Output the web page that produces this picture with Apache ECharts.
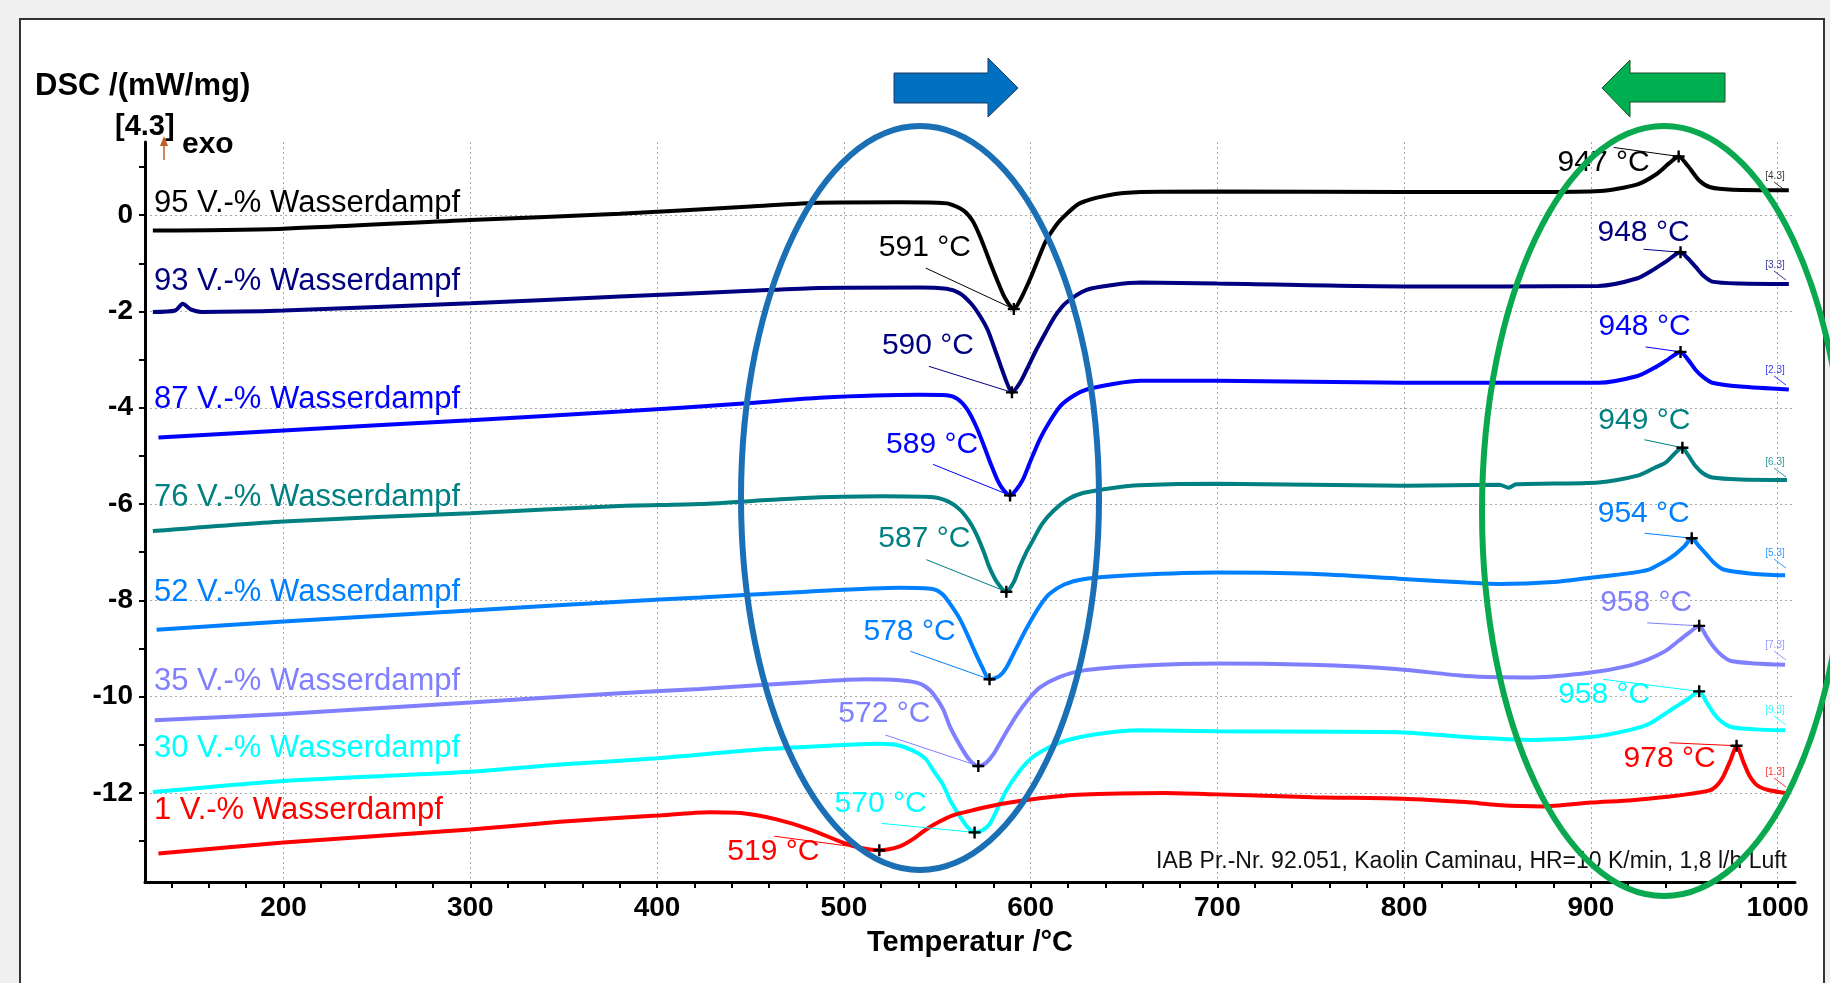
<!DOCTYPE html>
<html>
<head>
<meta charset="utf-8">
<script src="https://cdn.jsdelivr.net/npm/echarts@6/dist/echarts.min.js"></script>
<style>
  html, body { margin: 0; padding: 0; background: #f0f0f0; }
  #box { width: 1830px; height: 983px; }
</style>
</head>
<body>
<div id="box"></div>
<script>
// curve names (Wasserdampf-Gehalt)
var seriesNames = [
  "95 V.-% Wasserdampf",
  "93 V.-% Wasserdampf",
  "87 V.-% Wasserdampf",
  "76 V.-% Wasserdampf",
  "52 V.-% Wasserdampf",
  "35 V.-% Wasserdampf",
  "30 V.-% Wasserdampf",
  "1 V.-% Wasserdampf",
];
var curveTags = ["[4.3]", "[3.3]", "[2.3]", "[6.3]", "[5.3]", "[7.3]", "[9.3]", "[1.3]"];

// [Temperatur °C, DSC mW/mg]
var s95 = [
  [130, -0.32], [200, -0.28], [300, -0.1], [380, 0.03], [450, 0.18], [487, 0.26], [530, 0.27],
  [550, 0.26], [556, 0.24], [564, 0.1], [569, -0.12], [573, -0.45], [578, -0.95], [582, -1.34],
  [586, -1.7], [591, -1.95], [595, -1.72], [600, -1.3], [604, -0.92], [608, -0.55], [612, -0.3],
  [616, -0.1], [626, 0.24], [641, 0.41], [659, 0.48], [700, 0.49], [800, 0.48], [870, 0.48],
  [905, 0.5], [925, 0.64], [935, 0.85], [942, 1.08], [947, 1.22], [952, 1.02], [958, 0.72],
  [964, 0.58], [976, 0.53], [1006, 0.52],
];
var s93 = [
  [130, -2.01], [142, -1.98], [146, -1.84], [150, -1.95], [156, -2.01], [200, -1.98], [300, -1.83],
  [380, -1.69], [450, -1.57], [487, -1.51], [540, -1.5], [555, -1.53], [562, -1.62], [568, -1.83],
  [573, -2.1], [577, -2.38], [581, -2.8], [584, -3.13], [587, -3.45], [590, -3.68], [594, -3.5],
  [598, -3.2], [603, -2.8], [608, -2.44], [613, -2.1], [619, -1.82], [630, -1.55], [644, -1.45],
  [659, -1.4], [700, -1.42], [800, -1.48], [904, -1.47], [925, -1.31], [934, -1.12], [940, -0.97],
  [948, -0.77], [952, -0.9], [956, -1.07], [960, -1.25], [965, -1.38], [980, -1.42], [1006, -1.43],
];
var s87 = [
  [133, -4.62], [200, -4.47], [300, -4.26], [380, -4.08], [450, -3.9], [487, -3.79], [540, -3.73],
  [555, -3.74], [561, -3.82], [566, -4.03], [571, -4.4], [575, -4.79], [579, -5.2], [582, -5.48],
  [585, -5.68], [589, -5.82], [592, -5.72], [596, -5.48], [600, -5.1], [605, -4.65], [610, -4.3],
  [616, -3.96], [623, -3.75], [630, -3.62], [645, -3.5], [659, -3.44], [700, -3.44], [800, -3.48],
  [904, -3.48], [925, -3.34], [934, -3.17], [940, -3.03], [948, -2.84], [952, -3.0], [956, -3.21],
  [960, -3.36], [965, -3.48], [980, -3.56], [1006, -3.62],
];
var s76 = [
  [130, -6.56], [200, -6.36], [300, -6.19], [380, -6.04], [423, -6.0], [476, -5.88], [520, -5.84],
  [548, -5.86], [556, -5.95], [562, -6.11], [567, -6.35], [571, -6.63], [575, -7.0], [578, -7.32],
  [582, -7.62], [587, -7.82], [591, -7.62], [594, -7.32], [598, -6.98], [601, -6.77], [606, -6.42],
  [612, -6.15], [620, -5.9], [628, -5.77], [645, -5.66], [658, -5.61], [700, -5.58], [800, -5.62],
  [851, -5.6], [856, -5.66], [860, -5.59], [904, -5.55], [925, -5.41], [934, -5.25], [940, -5.14],
  [949, -4.83], [952, -4.98], [956, -5.21], [960, -5.36], [965, -5.45], [980, -5.49], [1005, -5.5],
];
var s52 = [
  [132, -8.61], [200, -8.44], [300, -8.21], [380, -8.03], [423, -7.94], [480, -7.82], [530, -7.74],
  [548, -7.77], [553, -7.88], [557, -8.08], [562, -8.38], [566, -8.7], [570, -9.05], [574, -9.38],
  [578, -9.64], [583, -9.58], [587, -9.4], [592, -9.02], [598, -8.57], [604, -8.17], [610, -7.87],
  [618, -7.67], [628, -7.56], [658, -7.47], [700, -7.42], [750, -7.45], [797, -7.55], [833, -7.63],
  [851, -7.66], [880, -7.62], [900, -7.53], [920, -7.44], [931, -7.36], [940, -7.18], [945, -7.05],
  [950, -6.88], [954, -6.71], [958, -6.88], [962, -7.05], [966, -7.22], [971, -7.36], [985, -7.44],
  [1004, -7.48],
];
var s35 = [
  [131, -10.49], [200, -10.36], [300, -10.12], [380, -9.93], [423, -9.84], [480, -9.7], [512, -9.64],
  [530, -9.66], [539, -9.71], [544, -9.8], [548, -9.95], [553, -10.25], [557, -10.64], [562, -11.0],
  [567, -11.3], [572, -11.44], [576, -11.38], [580, -11.2], [586, -10.8], [593, -10.36], [599, -10.05],
  [605, -9.81], [615, -9.6], [628, -9.46], [658, -9.36], [700, -9.31], [750, -9.34], [797, -9.43],
  [833, -9.57], [869, -9.6], [900, -9.5], [920, -9.36], [931, -9.22], [940, -9.05], [947, -8.84],
  [953, -8.66], [958, -8.53], [962, -8.76], [966, -8.98], [970, -9.14], [975, -9.26], [988, -9.31],
  [1004, -9.34],
];
var s30 = [
  [130, -11.98], [200, -11.75], [300, -11.56], [348, -11.41], [400, -11.28], [455, -11.1], [503, -11.0],
  [519, -10.98], [530, -11.02], [539, -11.16], [544, -11.3], [548, -11.54], [553, -11.82], [557, -12.16],
  [562, -12.48], [566, -12.7], [570, -12.82], [574, -12.78], [578, -12.65], [582, -12.35], [587, -11.95],
  [594, -11.55], [601, -11.26], [610, -11.05], [619, -10.91], [635, -10.78], [658, -10.7], [700, -10.72],
  [797, -10.74], [833, -10.84], [869, -10.9], [900, -10.84], [920, -10.7], [931, -10.57], [945, -10.22],
  [952, -10.05], [958, -9.89], [962, -10.12], [966, -10.36], [970, -10.52], [975, -10.63], [988, -10.68],
  [1004, -10.7],
];
var s1 = [
  [133, -13.26], [200, -13.03], [300, -12.76], [348, -12.6], [400, -12.47], [428, -12.4], [446, -12.42],
  [464, -12.55], [482, -12.76], [500, -13.04], [510, -13.15], [519, -13.19], [530, -13.11], [537, -12.96],
  [544, -12.76], [551, -12.6], [558, -12.47], [570, -12.35], [584, -12.23], [601, -12.13], [625, -12.04],
  [672, -12.0], [700, -12.03], [751, -12.09], [799, -12.12], [833, -12.19], [850, -12.25], [874, -12.28],
  [900, -12.2], [922, -12.15], [941, -12.08], [953, -12.02], [964, -11.94], [968, -11.82], [971, -11.65],
  [975, -11.3], [978, -11.02], [982, -11.39], [985, -11.65], [989, -11.84], [995, -11.94], [1004, -12.0],
];

// marked temperatures (endo minimum, exo maximum)
var dipTemps = [591, 590, 589, 587, 578, 572, 570, 519];
var peakTemps = [947, 948, 948, 949, 954, 958, 958, 978];

// axis ticks and labels
var xLabels = [200, 300, 400, 500, 600, 700, 800, 900, 1000];
var xTicks = [140, 160, 180, 200, 220, 240, 260, 280, 300, 320, 340, 360, 380, 400, 420, 440, 460, 480,
  500, 520, 540, 560, 580, 600, 620, 640, 660, 680, 700, 720, 740, 760, 780, 800, 820, 840, 860, 880,
  900, 920, 940, 960, 980, 1000];
var yLabels = [0, -2, -4, -6, -8, -10, -12];
var yTicks = [1, 0, -1, -2, -3, -4, -5, -6, -7, -8, -9, -10, -11, -12, -13];

// ---- styles / layout ----
var curves = [s95, s93, s87, s76, s52, s35, s30, s1];
var colors = ["#000000", "#000080", "#0000ff", "#008080", "#0080ff", "#8080ff", "#00ffff", "#ff0000"];
var font = "Liberation Sans, Arial, sans-serif";
var leftLabelY = [203, 281, 399, 497, 592, 681, 748, 810];
var tagY = [176, 265, 370, 462, 553, 645, 710, 772];
// label centre offset and leader start offset, pixels from the marked point
var dipOff = [
  [[-89, -61], [-88, -41]], [[-84, -47], [-83, -26]], [[-78, -51], [-77, -31]], [[-82, -53], [-80, -32]],
  [[-80, -48], [-79, -28]], [[-94, -52], [-93, -31]], [[-94, -29], [-93, -9]], [[-106, 2], [-105, -14]],
];
var peakOff = [
  [[-75, 6], [-65, -9]], [[-37, -20], [-37, -3]], [[-36, -25], [-35, -5]], [[-38, -27], [-38, -8]],
  [[-48, -25], [-47, -5]], [[-53, -23], [-52, -3]], [[-95, 3], [-96, -12]], [[-67, 13], [-67, -3]],
];
var xMin = 125.8, xMax = 1009.3, yMin = -13.85, yMax = 1.52;

var chart = echarts.init(document.getElementById("box"));

function valueAt(data, t) {
  for (var i = 0; i < data.length; i++) {
    if (data[i][0] === t) return data[i][1];
  }
  return null;
}

function makeSeries(i) {
  var dip = [dipTemps[i], valueAt(curves[i], dipTemps[i])];
  var peak = [peakTemps[i], valueAt(curves[i], peakTemps[i])];
  var lbl = { show: true, position: "inside", fontSize: 30, fontFamily: font, color: colors[i] };
  return {
    type: "line",
    name: seriesNames[i],
    data: curves[i],
    showSymbol: false,
    symbol: "none",
    smooth: 0.25,
    lineStyle: { color: colors[i], width: 4 },
    itemStyle: { color: colors[i] },
    z: 3,
    markPoint: {
      symbol: "path://M4,0H6V4H10V6H6V10H4V6H0V4H4Z",
      symbolSize: 12,
      itemStyle: { color: "#000" },
      data: [
        { coord: dip, label: Object.assign({}, lbl, { formatter: dipTemps[i] + " °C", offset: dipOff[i][0] }) },
        { coord: peak, label: Object.assign({}, lbl, { formatter: peakTemps[i] + " °C", offset: peakOff[i][0] }) },
      ],
    },
  };
}

var series = [];
for (var i = 0; i < curves.length; i++) series.push(makeSeries(i));

var gridLine = { show: true, lineStyle: { color: "#a8a8a8", width: 1, type: [2, 3] } };
var plainNum = function (v) { return String(v); };

chart.setOption({
  backgroundColor: "#f0f0f0",
  animation: false,
  grid: { left: 145, top: 142, right: 35, bottom: 101 },
  xAxis: [
    {
      type: "value", min: xMin, max: xMax, position: "bottom",
      name: "Temperatur /°C", nameLocation: "middle", nameGap: 46,
      nameTextStyle: { fontSize: 29, fontWeight: "bold", color: "#000", fontFamily: font },
      axisLine: { show: true, onZero: false, lineStyle: { color: "#000", width: 3 } },
      axisTick: { show: true, length: 6, lineStyle: { color: "#000", width: 2 }, customValues: xTicks },
      axisLabel: { customValues: xLabels, formatter: plainNum, fontSize: 28, fontWeight: "bold",
        color: "#000", fontFamily: font, margin: 12 },
      splitLine: { show: false },
    },
    {
      type: "value", min: xMin, max: xMax, position: "top",
      axisLine: { show: false, onZero: false }, axisLabel: { show: false },
      axisTick: { show: false, customValues: xLabels },
      splitLine: gridLine,
    },
  ],
  yAxis: [
    {
      type: "value", min: yMin, max: yMax, position: "left",
      axisLine: { show: true, onZero: false, lineStyle: { color: "#000", width: 3 } },
      axisTick: { show: true, length: 6, lineStyle: { color: "#000", width: 2 }, customValues: yTicks },
      axisLabel: { customValues: yLabels, formatter: plainNum, fontSize: 28, fontWeight: "bold",
        color: "#000", fontFamily: font, margin: 12 },
      splitLine: { show: false },
    },
    {
      type: "value", min: yMin, max: yMax, position: "right",
      axisLine: { show: false, onZero: false }, axisLabel: { show: false },
      axisTick: { show: false, customValues: yLabels },
      splitLine: gridLine,
    },
  ],
  series: series,
});

// static drawing + leader lines (need pixel positions of the marks)
var g = [];
g.push({ type: "rect", z: -1, shape: { x: 20, y: 19, width: 1804, height: 990 },
  style: { fill: "#fff", stroke: "#333", lineWidth: 2 } });
g.push({ type: "text", x: 35, y: 86, z: 5,
  style: { text: "DSC /(mW/mg)", font: "bold 31px " + font, fill: "#000", verticalAlign: "middle" } });
g.push({ type: "text", x: 115, y: 127, z: 5,
  style: { text: "[4.3]", font: "bold 29px " + font, fill: "#000", verticalAlign: "middle" } });
g.push({ type: "line", z: 5, shape: { x1: 164, y1: 160, x2: 164, y2: 140 }, style: { stroke: "#c0602a", lineWidth: 1.5 } });
g.push({ type: "polygon", z: 5, shape: { points: [[160, 146], [164, 136], [168, 146]] }, style: { fill: "#c0602a" } });
g.push({ type: "text", x: 182, y: 145, z: 5,
  style: { text: "exo", font: "bold 30px " + font, fill: "#000", verticalAlign: "middle" } });
g.push({ type: "text", x: 1787, y: 862, z: 5,
  style: { text: "IAB Pr.-Nr. 92.051, Kaolin Caminau, HR=10 K/min, 1,8 l/h Luft", font: "23px " + font,
    fill: "#111", align: "right", verticalAlign: "middle" } });

for (var k = 0; k < curves.length; k++) {
  g.push({ type: "text", x: 154, y: leftLabelY[k], z: 5,
    style: { text: seriesNames[k], font: "31px " + font, fill: colors[k], verticalAlign: "middle" } });
  g.push({ type: "text", x: 1775, y: tagY[k], z: 5,
    style: { text: curveTags[k], font: "10px " + font, fill: colors[k], align: "center", verticalAlign: "middle", opacity: 0.8 } });
  g.push({ type: "line", z: 5, shape: { x1: 1774, y1: tagY[k] + 6, x2: 1786, y2: tagY[k] + 15 },
    style: { stroke: colors[k], lineWidth: 1, opacity: 0.8 } });

  var marks = [[dipTemps[k], dipOff[k][1]], [peakTemps[k], peakOff[k][1]]];
  for (var m = 0; m < marks.length; m++) {
    var p = chart.convertToPixel({ xAxisIndex: 0, yAxisIndex: 0 }, [marks[m][0], valueAt(curves[k], marks[m][0])]);
    g.push({ type: "line", z: 4,
      shape: { x1: p[0] + marks[m][1][0], y1: p[1] + marks[m][1][1], x2: p[0], y2: p[1] },
      style: { stroke: colors[k], lineWidth: 1 } });
  }
}

// ellipses and arrows
g.push({ type: "ellipse", z: 10, shape: { cx: 920, cy: 498, rx: 179, ry: 372 },
  style: { fill: "none", stroke: "#1b6fb4", lineWidth: 6 } });
g.push({ type: "ellipse", z: 10, shape: { cx: 1664, cy: 511, rx: 182, ry: 385 },
  style: { fill: "none", stroke: "#0aa84f", lineWidth: 6 } });
g.push({ type: "polygon", z: 10,
  shape: { points: [[894, 73], [988, 73], [988, 58], [1018, 88], [988, 117], [988, 103], [894, 103]] },
  style: { fill: "#0070c0", stroke: "#1f3864", lineWidth: 1 } });
g.push({ type: "polygon", z: 10,
  shape: { points: [[1725, 73], [1630, 73], [1630, 60], [1602, 88], [1630, 117], [1630, 102], [1725, 102]] },
  style: { fill: "#00b050", stroke: "#1e4d2b", lineWidth: 1 } });

chart.setOption({ graphic: g });
</script>
</body>
</html>
